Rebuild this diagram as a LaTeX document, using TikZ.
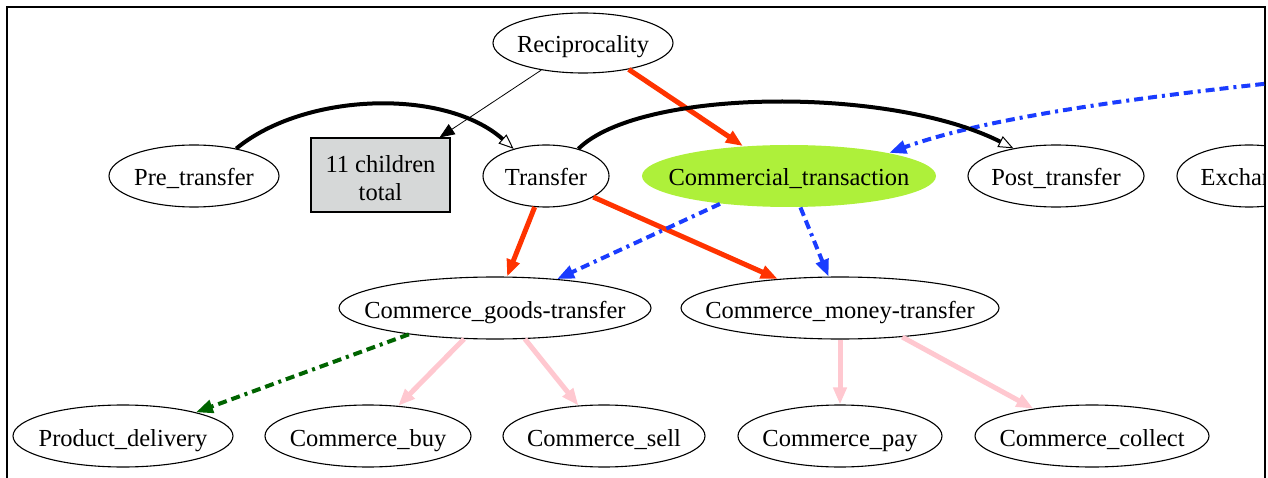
\documentclass[tikz,border=0pt]{standalone}
\usepackage{fontspec}
\setmainfont{Liberation Serif}
\usetikzlibrary{arrows.meta,shapes.geometric}
\definecolor{redE}{HTML}{FF3300}
\definecolor{blueE}{HTML}{1A3CFF}
\definecolor{greenE}{HTML}{006400}
\definecolor{pinkE}{HTML}{FFC8D0}
\definecolor{grayF}{HTML}{D6D8D8}
\definecolor{limeF}{HTML}{AEF03A}
\begin{document}
\begin{tikzpicture}[x=1pt,y=-1pt,
  en/.style={ellipse, draw, line width=1.1pt, inner sep=0pt, minimum height=62pt,
    text height=20pt, text depth=0pt, font=\fontsize{24.5}{29}\selectfont},
  boxnode/.style={rectangle, draw, line width=1.1pt, fill=grayF, inner sep=0pt,
    minimum width=139pt, minimum height=74pt, align=center, font=\fontsize{24.5}{28}\selectfont},
  redarr/.style={draw=redE, line width=5pt, -{Triangle[length=17pt,width=13pt]}, redE},
  pinkarr/.style={draw=pinkE, line width=5pt, -{Triangle[length=17pt,width=13pt]}, pinkE},
  bluearr/.style={draw=blueE, line width=4pt, dash pattern=on 9pt off 5pt on 9pt off 5pt on 3pt off 5pt,
    -{Triangle[length=17pt,width=13pt]}, blueE},
  greenarr/.style={draw=greenE, line width=4pt, dash pattern=on 9pt off 5pt on 9pt off 5pt on 3pt off 5pt,
    -{Triangle[length=17pt,width=13pt]}, greenE},
  blackcurve/.style={draw=black, line width=4pt, -{Triangle[open,length=15pt,width=12pt,line width=1pt]}},
  thinarr/.style={draw=black, line width=0.8pt, -{Triangle[length=15pt,width=12pt]}},
]
\useasboundingbox (0,0) rectangle (1268,478);
% frame
\draw[line width=2pt] (7,478) -- (7,7) -- (1265,7) -- (1265,478);

% top row
\node[en, minimum width=180pt, minimum height=60pt] (rec) at (583,43) {\makebox[0pt]{Reciprocality}};
\node[en, minimum width=170pt] (pre) at (194,176) {\makebox[0pt]{Pre\_transfer}};
\node[boxnode] (box) at (380.5,175) {\rule{0pt}{24pt}11 children\\total};
\node[en, minimum width=126pt] (tr) at (546,176) {\makebox[0pt]{Transfer}};
\node[en, draw=none, fill=limeF, minimum width=294pt] (ct) at (789,176) {\makebox[0pt]{Commercial\_transaction}};
\node[en, minimum width=176pt] (post) at (1056,176) {\makebox[0pt]{Post\_transfer}};
\begin{scope}
  \clip (0,0) rectangle (1265,478);
  \node[en, minimum width=144pt] (exch) at (1249,176) {\makebox[0pt]{Exchange}};
  \coordinate (exsrc) at (1300,80);
  \draw[bluearr] (exsrc) .. controls (1130,98) and (985,118) .. (ct.13);
\end{scope}

% middle row
\node[en, minimum width=312pt] (goods) at (495,308) {\makebox[0pt]{Commerce\_goods-transfer}};
\node[en, minimum width=318pt] (money) at (840,308) {\makebox[0pt]{Commerce\_money-transfer}};

% bottom row
\node[en, minimum width=220pt] (prod) at (123,436) {\makebox[0pt]{Product\_delivery}};
\node[en, minimum width=206pt] (buy) at (368,436) {\makebox[0pt]{Commerce\_buy}};
\node[en, minimum width=202pt] (sell) at (604,436) {\makebox[0pt]{Commerce\_sell}};
\node[en, minimum width=204pt] (pay) at (840,436) {\makebox[0pt]{Commerce\_pay}};
\node[en, minimum width=234pt] (coll) at (1092,436) {\makebox[0pt]{Commerce\_collect}};

% connectors
\draw[thinarr] (rec.213) -- ([xshift=-11pt]box.north east);
\draw[redarr] (rec.-30) -- (ct.147);
\draw[blackcurve] (pre.33) .. controls (305,92) and (445,88) .. (tr.140);
\draw[blackcurve] (tr.40) .. controls (640,88) and (890,86) .. (post.147);
\draw[redarr] (tr.250) -- (goods.69);
\draw[redarr] (tr.-24) -- (money.155);
\draw[bluearr] (ct.202) -- (goods.25);
\draw[bluearr] (ct.-70) -- (money.110);
\draw[greenarr] (goods.197) -- (prod.18);
\draw[pinkarr] (goods.225) -- (buy.45);
\draw[pinkarr] (goods.-46) -- (sell.130);
\draw[pinkarr] (money.south) -- (pay.north);
\draw[pinkarr] (money.-25) -- (coll.155);
\end{tikzpicture}
\end{document}
